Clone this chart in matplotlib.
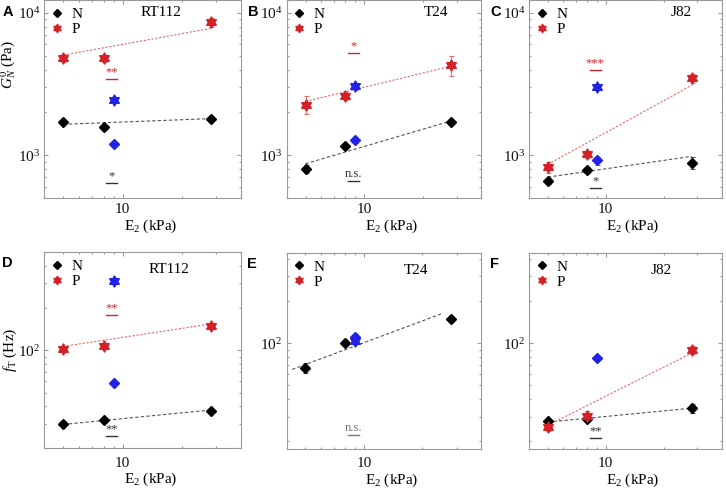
import numpy as np
import matplotlib
matplotlib.use("Agg")
import matplotlib.pyplot as plt
from matplotlib.path import Path
from matplotlib.lines import Line2D
from matplotlib.ticker import LogLocator, NullFormatter, FixedLocator, FixedFormatter

plt.rcParams['font.family'] = ['Liberation Serif', 'DejaVu Serif']
plt.rcParams['mathtext.fontset'] = 'custom'
plt.rcParams['mathtext.rm'] = 'Liberation Serif'
plt.rcParams['mathtext.it'] = 'Liberation Serif:italic'
plt.rcParams['mathtext.bf'] = 'Liberation Serif:bold'

# ---------------- data ----------------
E2 = [5, 8, 28]            # substrate stiffness (kPa)
E2_blue = 9                # reference (blue) condition
x_ticks = [10]
x_ticklabels = ['10']

cell_lines = ['RT112', 'T24', 'J82']
panel_letters = [['A', 'B', 'C'], ['D', 'E', 'F']]

# Top row: plateau modulus G_N^0 (Pa)
GN_N = [[1708, 1581, 1800], [806, 1157, 1715], [660, 793, 888]]
GN_N_err = [[40, 45, 70], [55, 40, 45], [30, 40, 80]]
GN_P = [[4850, 4800, 8590], [2270, 2600, 4285], [828, 1016, 3490]]
GN_P_err = [[300, 250, 650], [330, 170, 700], [70, 60, 250]]
GN_blue_N = [1207, 1275, 922]
GN_blue_N_err = [40, 50, 60]
GN_blue_P = [2450, 3055, 3020]
GN_blue_P_err = [120, 160, 150]
GN_fit_x = [[5, 28], [5, 28], [5, 28]]
GN_fit_N = [[1652, 1811], [874, 1742], [704, 984]]
GN_fit_P = [[5050, 7770], [2390, 4220], [865, 3105]]
GN_sig_P = [('**', 3440), ('*', 5240), ('***', 3950)]
GN_sig_N = [('*', 640), ('n.s.', 664), ('*', 590)]

# Bottom row: transition frequency f_T (Hz)
fT_N = [[29.6, 31.7, 37.2], [66.7, 100, 148], [27.7, 29.0, 34.4]]
fT_N_err = [[0.8, 1.0, 1.2], [5, 5, 7], [1.0, 1.8, 2.5]]
fT_P = [[102, 106.7, 150], None, [25.3, 30.5, 89.8]]
fT_P_err = [[4, 5, 7], None, [1.5, 2.5, 6]]
fT_blue_N = [58.4, 111, 78.5]
fT_blue_N_err = [2, 5, 3]
fT_blue_P = [310, 103, None]
fT_blue_P_err = [12, 5, None]
fT_fit_x = [[5, 28], [4.28, 25.6], [5, 28]]
fT_fit_N = [[29.6, 37.5], [65, 164], [27.4, 34.4]]
fT_fit_P = [[106.7, 154], None, [26, 85]]
fT_sig_P = [('**', 179), None, None]
fT_sig_N = [('**', 24.6), ('n.s.', 22.3), ('**', 21.2)]
sig_x = [8.25, 9.4]

# ---------------- style ----------------
BLACK = '#000000'
RED = '#d42027'
BLUE = '#2222e6'
RED_LINE = '#e36a6a'
GRAY_LINE = '#555555'
STAR = Path.unit_regular_star(6, 0.577)
SPINE = '#9a9a9a'

W, H = 726, 488
boxes = [[(44.3, 0.5, 241, 198.3), (286.7, 0.5, 481, 198.3), (529.3, 0.5, 721.5, 198.3)],
         [(44.3, 252.3, 241, 448.3), (286.5, 253, 481, 449), (529.3, 253, 721.5, 449)]]
ylims = [[(500, 12200)] * 3, [(20, 500), (17.6, 440), (17.6, 440)]]
title_pos = [[(0.592, 0.94), (0.767, 0.94), (0.79, 0.94)],
             [(0.635, 0.913), (0.666, 0.913), (0.689, 0.913)]]
xtick_pad = [3.5, 6.0]
xlabel_y = [-0.10, -0.114]

fig = plt.figure(figsize=(W / 100, H / 100), dpi=100)


def add_sig(ax, sig, color):
    if sig is None:
        return
    txt, y = sig
    ax.plot(sig_x, [y, y], color=color, lw=1.0, zorder=3)
    xc = np.sqrt(sig_x[0] * sig_x[1])
    ax.annotate(txt, xy=(xc, y), xytext=(0, 0.5), textcoords='offset points',
                ha='center', va='bottom', fontsize=9, color=color)


for r in range(2):
    for c in range(3):
        x0, y0, x1, y1 = boxes[r][c]
        ax = fig.add_axes([x0 / W, 1 - y1 / H, (x1 - x0) / W, (y1 - y0) / H])
        ax.set_xscale('log')
        ax.set_yscale('log')
        ax.set_xlim(4, 40)
        ax.set_ylim(*ylims[r][c])

        if r == 0:
            N, Ne, P, Pe = GN_N[c], GN_N_err[c], GN_P[c], GN_P_err[c]
            bN, bNe, bP, bPe = GN_blue_N[c], GN_blue_N_err[c], GN_blue_P[c], GN_blue_P_err[c]
            fx, fN, fP = GN_fit_x[c], GN_fit_N[c], GN_fit_P[c]
            sP, sN = GN_sig_P[c], GN_sig_N[c]
        else:
            N, Ne, P, Pe = fT_N[c], fT_N_err[c], fT_P[c], fT_P_err[c]
            bN, bNe, bP, bPe = fT_blue_N[c], fT_blue_N_err[c], fT_blue_P[c], fT_blue_P_err[c]
            fx, fN, fP = fT_fit_x[c], fT_fit_N[c], fT_fit_P[c]
            sP, sN = fT_sig_P[c], fT_sig_N[c]

        # fit lines
        if fN is not None:
            ax.plot(fx, fN, color=GRAY_LINE, lw=0.8, ls=(0, (3, 2)), zorder=2)
        if fP is not None:
            ax.plot(fx, fP, color=RED_LINE, lw=0.8, ls=(0, (2, 1.5)), zorder=2)

        # N series
        ax.errorbar(E2, N, yerr=Ne, fmt='none', ecolor='#555555', elinewidth=0.8,
                    capsize=1.8, capthick=0.8, zorder=3)
        ax.plot(E2, N, ls='none', marker='D', ms=4.8, color=BLACK, zorder=5)
        # P series
        if P is not None:
            ax.errorbar(E2, P, yerr=Pe, fmt='none', ecolor='#e07070', elinewidth=0.8,
                        capsize=1.8, capthick=0.8, zorder=3)
            ax.plot(E2, P, ls='none', marker=STAR, ms=8, color=RED, zorder=6)
        # blue reference points
        if bP is not None:
            ax.errorbar([E2_blue], [bP], yerr=[bPe], fmt='none', ecolor='#7070e0',
                        elinewidth=0.8, capsize=1.8, capthick=0.8, zorder=3)
            ax.plot([E2_blue], [bP], ls='none', marker=STAR, ms=8, color=BLUE, zorder=6)
        if bN is not None:
            ax.errorbar([E2_blue], [bN], yerr=[bNe], fmt='none', ecolor='#7070e0',
                        elinewidth=0.8, capsize=1.8, capthick=0.8, zorder=3)
            ax.plot([E2_blue], [bN], ls='none', marker='D', ms=4.8, color=BLUE, zorder=7)

        add_sig(ax, sP, RED)
        add_sig(ax, sN, '#777777' if (r == 1 and c == 1) else '#333333')

        # ticks
        ax.xaxis.set_major_locator(FixedLocator(x_ticks))
        ax.xaxis.set_major_formatter(FixedFormatter(x_ticklabels))
        ax.xaxis.set_minor_locator(LogLocator(base=10, subs=np.arange(2, 10), numticks=20))
        ax.xaxis.set_minor_formatter(NullFormatter())
        ax.yaxis.set_major_locator(LogLocator(base=10, numticks=10))
        ax.yaxis.set_minor_locator(LogLocator(base=10, subs=np.arange(2, 10), numticks=20))
        ax.yaxis.set_minor_formatter(NullFormatter())
        ax.tick_params(which='both', direction='in', top=True, right=True,
                       color=SPINE, width=0.8, labelsize=11, labelcolor='#111111')
        ax.tick_params(which='major', length=3.0)
        ax.tick_params(which='minor', length=1.6)
        ax.tick_params(axis='y', which='major', pad=3)
        ax.tick_params(axis='x', which='major', pad=xtick_pad[r])
        for s in ax.spines.values():
            s.set_color(SPINE)
            s.set_linewidth(0.8)

        ax.set_xlabel('E$_2$ (kPa)', fontsize=11)
        ax.xaxis.set_label_coords(0.54, xlabel_y[r], transform=ax.transAxes)
        ax.xaxis.label.set_va('top')

        ax.text(*title_pos[r][c], cell_lines[c], transform=ax.transAxes,
                ha='center', va='center', fontsize=11)

        handles = [Line2D([], [], ls='none', marker='D', ms=3.6, color=BLACK),
                   Line2D([], [], ls='none', marker=STAR, ms=6, color=RED)]
        ax.legend(handles, ['N', 'P'], loc='upper left', frameon=False, fontsize=11,
                  handlelength=0.7, handletextpad=0.6, borderaxespad=0.25,
                  borderpad=0.2, labelspacing=0.1)

        fig.text((x0 - 42) / W if c == 0 else (x0 - 39) / W, 1 - (y0 + 4) / H,
                 panel_letters[r][c], fontsize=10.5, fontweight='bold',
                 family='Liberation Sans', ha='left', va='top')

        if c == 0:
            if r == 0:
                ax.set_ylabel('$G_N^0$ (Pa)', fontsize=11)
                ax.yaxis.set_label_coords(-0.182, 0.676)
            else:
                ax.set_ylabel('$f_\\mathrm{T}$ (Hz)', fontsize=11)
                ax.yaxis.set_label_coords(-0.172, 0.5)
            ax.yaxis.label.set_va('center')

fig.savefig('out.png', dpi=100)
